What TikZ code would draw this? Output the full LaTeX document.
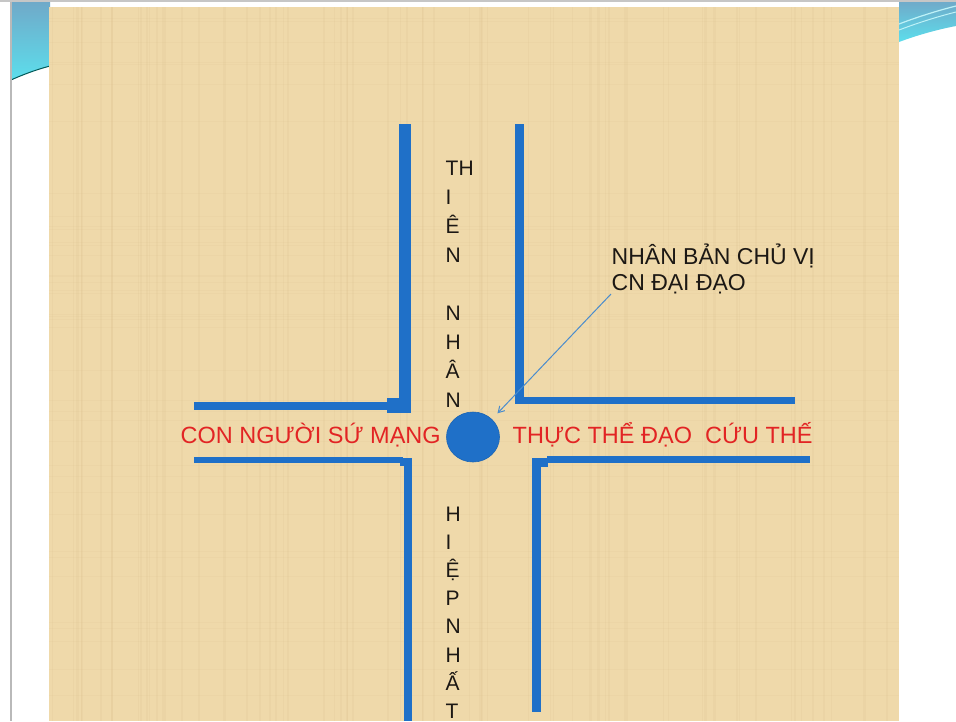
\documentclass[tikz,border=0pt]{standalone}
\usepackage{fontspec}
\setmainfont{Liberation Sans}
\usetikzlibrary{arrows.meta,shapes.geometric}
\definecolor{paper}{RGB}{239,217,170}
\definecolor{paperdark}{RGB}{214,186,132}
\definecolor{barblue}{RGB}{31,112,200}
\definecolor{arrowblue}{RGB}{74,140,205}
\definecolor{redtext}{RGB}{226,36,36}
\definecolor{inktext}{RGB}{28,24,20}
\definecolor{swtop}{RGB}{112,168,200}
\definecolor{swbot}{RGB}{92,222,236}
\begin{document}
\begin{tikzpicture}[x=1pt,y=-1pt,
  bar/.style={fill=barblue,draw=none},
  redlabel/.style={anchor=base west,inner sep=0pt,text=redtext,font=\fontsize{23.5}{28}\selectfont},
  inklabel/.style={anchor=base west,inner sep=0pt,text=inktext,font=\fontsize{23}{28}\selectfont},
  letter/.style={anchor=base west,inner sep=0pt,text=inktext,font=\fontsize{21}{28}\selectfont}]
\useasboundingbox (0,0) rectangle (956,721);
\fill[white] (0,0) rectangle (956,721);
% left swoosh and border
\shade[top color=swtop,bottom color=swbot] (11,0) -- (50,0) -- (50,66) .. controls (35,70) and (22,75) .. (11,80) -- cycle;
\draw[teal!70!black,line width=1pt] (11,80) .. controls (22,75) and (35,70) .. (50,66);
\fill[gray!55] (9.5,0) rectangle (11.5,721);
% right swoosh
\shade[top color=swtop,bottom color=swbot] (899,0) -- (956,0) -- (956,26) .. controls (935,30) and (915,36) .. (899,42) -- cycle;
\draw[white!60!swbot,line width=1.2pt] (899,24) .. controls (920,16) and (940,10) .. (956,6);
\draw[white!60!swbot,line width=1pt] (899,30) .. controls (920,22) and (940,16) .. (956,12);
\fill[gray!45] (0,0) rectangle (956,2);
% paper
\fill[paper] (49,7) rectangle (899,721);
\pgfmathsetseed{7}
\foreach \i in {1,...,70}{
  \pgfmathsetmacro{\xx}{49+850*rnd}
  \pgfmathsetmacro{\ww}{0.5+2*rnd}
  \fill[paperdark,opacity=0.13] (\xx,7) rectangle ++(\ww,714);
}
\foreach \i in {1,...,40}{
  \pgfmathsetmacro{\yy}{7+714*rnd}
  \fill[paperdark,opacity=0.10] (49,\yy) rectangle ++(850,1);
}
% top-left L
\fill[bar] (399,124) rectangle (411,413);
\fill[bar] (194,402) rectangle (411,410);
\fill[bar] (387,398) rectangle (411,413);
% top-right L
\fill[bar] (515,124) rectangle (524,404);
\fill[bar] (515,397) rectangle (795,404);
% bottom-left L
\fill[bar] (194,457) rectangle (403,463);
\fill[bar] (400,458) rectangle (412,466);
\fill[bar] (404,458) rectangle (412,721);
% bottom-right L
\fill[bar] (547,456) rectangle (810,463);
\fill[bar] (532,458) rectangle (548,467);
\fill[bar] (532,458) rectangle (541,712);
% centre
\node[ellipse,fill=barblue,draw=barblue!90!black,line width=0.6pt,minimum width=53pt,minimum height=50pt,inner sep=0pt] (c) at (473,437) {};
% red labels
\node[redlabel] (left) at (180.5,443.5) {CON NGƯỜI SỨ MẠNG};
\node[redlabel] (right) at (512.5,443.5) {THỰC THỂ ĐẠO\ \ CỨU THẾ};
% vertical letters top
\foreach \t [count=\k from 0] in {TH,I,Ê,N,{},N,H,Â,N}{
  \node[letter] (top\k) at (445.5,175+29.1*\k) {\t};
}
% vertical letters bottom
\foreach \t [count=\k from 0] in {H,I,Ệ,P,N,H,Ấ,T}{
  \node[letter] (bot\k) at (445.5,521+28.2*\k) {\t};
}
% annotation
\node[inklabel] (ann1) at (611.5,264) {NHÂN BẢN CHỦ VỊ};
\node[inklabel] (ann2) at (611.5,290) {CN ĐẠI ĐẠO};
\coordinate (foot) at (611,294);
\draw[arrowblue,line width=1pt,-{Straight Barb[length=6pt,width=7pt]},shorten >=8pt] (foot) -- (c.north east);
\end{tikzpicture}
\end{document}
